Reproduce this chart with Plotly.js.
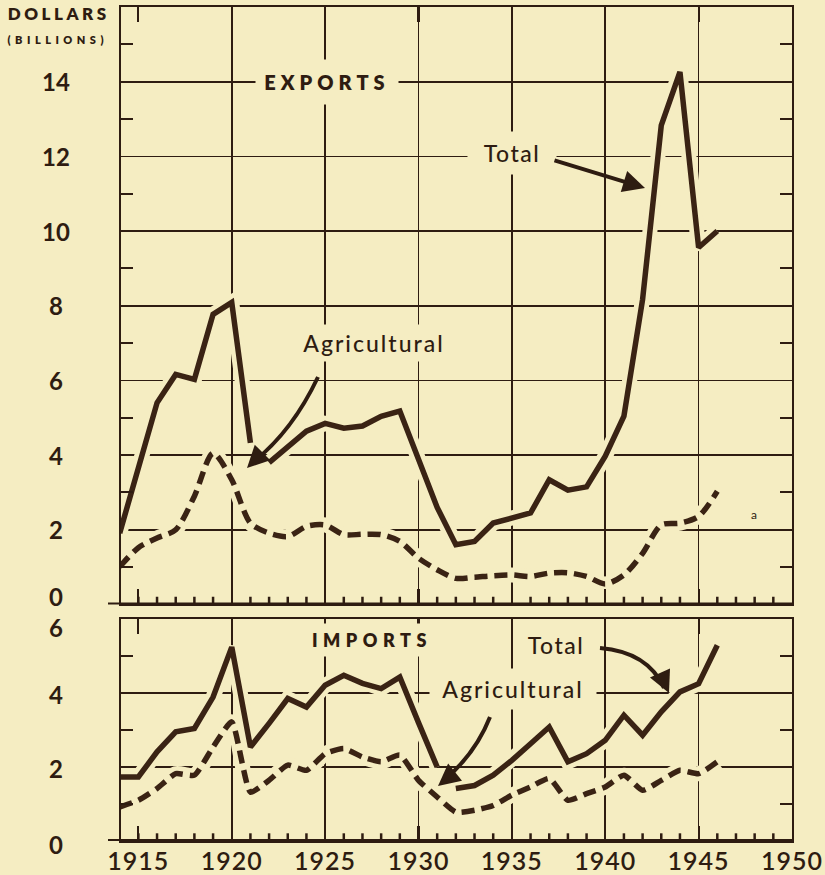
<!DOCTYPE html>
<html>
<head>
<meta charset="utf-8">
<script src="https://cdn.plot.ly/plotly-3.0.1.min.js"></script>
<style>
html,body{margin:0;padding:0;background:#f5edc2;}
#chart{width:825px;height:875px;}
</style>
</head>
<body>
<div id="chart"></div>
<script>
// ---------- DATA ----------
const years = [1914,1915,1916,1917,1918,1919,1920,1921,1922,1923,1924,1925,1926,1927,1928,1929,1930,
               1931,1932,1933,1934,1935,1936,1937,1938,1939,1940,1941,1942,1943,1944,1945,1946];
const exportTotal = [1.91,3.60,5.40,6.16,6.03,7.77,8.09,4.33,3.80,4.24,4.64,4.85,4.72,4.78,5.04,5.18,3.90,
                     2.60,1.60,1.69,2.18,2.32,2.45,3.34,3.06,3.15,3.97,5.04,8.17,12.83,14.26,9.56,10.00];
const exportAgri  = [1.01,1.52,1.78,2.00,2.90,4.05,3.34,2.18,1.91,1.82,2.09,2.13,1.87,1.88,1.87,1.69,1.24,
                     0.93,0.70,0.73,0.77,0.79,0.75,0.84,0.85,0.75,0.55,0.79,1.37,2.13,2.18,2.36,3.03];
const importTotal = [1.73,1.73,2.41,2.95,3.04,3.89,5.24,2.54,3.18,3.85,3.62,4.21,4.48,4.26,4.12,4.43,3.20,
                     2.00,1.42,1.50,1.78,2.18,2.63,3.08,2.14,2.36,2.72,3.40,2.86,3.49,4.03,4.25,5.29];
const importAgri  = [0.92,1.10,1.42,1.82,1.78,2.54,3.22,1.32,1.64,2.05,1.91,2.36,2.50,2.27,2.14,2.32,1.64,
                     1.19,0.78,0.83,0.96,1.24,1.46,1.69,1.10,1.28,1.46,1.78,1.37,1.64,1.91,1.82,2.14];

const xLabelYears = [1915,1920,1925,1930,1935,1940,1945,1950];
const xLabelText  = ['1915','1920','1925','1930','1935','1940','1945','1950'];
const gridYears   = [1920,1925,1930,1935,1940,1945];
const yearTicks   = [1915,1916,1917,1918,1919,1921,1922,1923,1924,1926,1927,1928,1929,1931,1932,
                     1933,1934,1936,1937,1938,1939,1941,1942,1943,1944,1946,1947,1948,1949];
const exportYTicks = [0,2,4,6,8,10,12,14];
const exportYText  = ['0','2','4','6','8','10','12','14'];
const exportYMinor = [1,3,5,7,9,11,13,15];
const importYTicks = [0,2,4,6];
const importYText  = ['0','2','4','6'];
const importYMinor = [1,3,5];

// ---------- STYLE ----------
const BG = '#f5edc2';
const INK = '#2e1c11';
const LINE = '#3a2314';
const FONT = 'Lato, "DejaVu Sans", sans-serif';
const XR = [1914.07, 1950.0];
const exportGap = 8;   // break in exports total line (arrow)
const importGap = 18;  // break in imports total line (arrow)

function seg(arr, a, b){ return arr.slice(a, b); }
function halo(x, y, xa, ya, shape){
  return {x:x, y:y, xaxis:xa, yaxis:ya, mode:'lines', hoverinfo:'skip',
          line:{color:BG, width:15, shape:shape||'linear', smoothing:0.8}};
}
function solid(x, y, xa, ya){
  return {x:x, y:y, xaxis:xa, yaxis:ya, mode:'lines', hoverinfo:'skip',
          line:{color:LINE, width:5.5, shape:'linear'}};
}
function dashed(x, y, xa, ya, smooth){
  return {x:x, y:y, xaxis:xa, yaxis:ya, mode:'lines', hoverinfo:'skip',
          line:{color:LINE, width:5.5, dash:'13px,7px', shape:'spline', smoothing:smooth}};
}
// small year tick marks sitting on each baseline (lower half clipped by the plot area)
function yearDots(xa, ya){
  return {x:yearTicks, y:yearTicks.map(function(){return 0;}), xaxis:xa, yaxis:ya, mode:'markers',
          hoverinfo:'skip', cliponaxis:true,
          marker:{symbol:'line-ns-open', size:11, color:INK, line:{color:INK, width:2.5}}};
}

const traces = [
  halo(seg(years,0,exportGap), seg(exportTotal,0,exportGap), 'x2','y2'),
  halo(seg(years,exportGap), seg(exportTotal,exportGap), 'x2','y2'),
  halo(years, exportAgri, 'x2','y2','spline'),
  halo(seg(years,0,importGap), seg(importTotal,0,importGap), 'x','y'),
  halo(seg(years,importGap), seg(importTotal,importGap), 'x','y'),
  halo(years, importAgri, 'x','y','spline'),
  yearDots('x2','y2'),
  yearDots('x','y'),
  dashed(years, exportAgri, 'x2','y2', 0.8),
  solid(seg(years,0,exportGap), seg(exportTotal,0,exportGap), 'x2','y2'),
  solid(seg(years,exportGap), seg(exportTotal,exportGap), 'x2','y2'),
  dashed(years, importAgri, 'x','y', 0.5),
  solid(seg(years,0,importGap), seg(importTotal,0,importGap), 'x','y'),
  solid(seg(years,importGap), seg(importTotal,importGap), 'x','y')
];

// x axes: labels, 15px ticks (visible at 1915, top and bottom), vertical grid via minor
function mainX(anchor, labels){
  return {anchor:anchor, domain:[0,1], range:XR, tickmode:'array',
    tickvals: xLabelYears, ticktext: xLabelText,
    showticklabels: !!labels, ticks:'inside', ticklen:15, tickwidth:2.2, tickcolor:INK,
    showgrid:false, zeroline:false,
    showline:true, linecolor:INK, linewidth:2, mirror:'ticks',
    tickfont:{family:FONT, size:25, color:INK, weight:600}, ticklabelstandoff:-3,
    minor:{tickmode:'array', tickvals:gridYears, showgrid:true, gridcolor:INK, gridwidth:1.7, ticks:''}};
}
function panelY(anchor, dom, range, grid, minor){
  return {anchor:anchor, domain:dom, range:range, tickmode:'array', tickvals:grid,
    showticklabels:false, ticks:'', showgrid:true, gridcolor:INK, gridwidth:1.7,
    showline:true, linecolor:INK, linewidth:2, mirror:'ticks', zeroline:false,
    minor:{tickmode:'array', tickvals:minor, ticks:'inside', ticklen:12, tickwidth:2, tickcolor:INK, showgrid:false}};
}

const PX0 = 121, PW = 671, PY1 = 841, PH = 834;
function px(x){ return (x - PX0) / PW; }
function py(y){ return (PY1 - y) / PH; }

const annotations = [];
exportYTicks.forEach(function(v, i){
  annotations.push({xref:'paper', yref:'y2', x:px(56), y:v, text:exportYText[i], showarrow:false,
    xanchor:'center', yanchor:'middle', yshift:(v===0?8:0),
    font:{family:FONT, size:24, color:INK, weight:700}});
});
importYTicks.forEach(function(v, i){
  annotations.push({xref:'paper', yref:'y', x:px(56), y:v, text:importYText[i], showarrow:false,
    xanchor:'center', yanchor:'middle', yshift:(v===6?-9:(v===0?-4:-2)),
    font:{family:FONT, size:24, color:INK, weight:700}});
});
function label(text, x, y, size, weight, w, h){
  const a = {xref:'paper', yref:'paper', x:px(x), y:py(y), text:text, showarrow:false,
    xanchor:'center', yanchor:'middle', font:{family:FONT, size:size, color:INK, weight:weight}};
  if (w) { a.bgcolor = BG; a.width = w; a.height = h; }
  return a;
}
annotations.push(label('DOLLARS', 58, 14, 17, 800));
annotations.push(label('(BILLIONS)', 58, 40, 11, 800));
annotations.push(label('EXPORTS', 327, 82, 20, 800, 140, 42));
annotations.push(label('Total', 512, 153, 23, 500, 86, 40));
annotations.push(label('Agricultural', 374, 343, 23, 500, 176, 34));
annotations.push(label('IMPORTS', 372, 640, 18, 800, 136, 30));
annotations.push(label('Total', 556, 645, 23, 500, 80, 30));
annotations.push(label('Agricultural', 513, 689, 23, 500, 164, 38));
annotations.push(label('a', 754, 514, 12, 400));

function head(tx, ty, ax, ay){
  return {xref:'paper', yref:'paper', x:px(tx), y:py(ty), ax:ax, ay:ay, text:'', showarrow:true,
    arrowhead:2, arrowsize:1.1, arrowwidth:4, arrowcolor:INK, standoff:0};
}
annotations.push(head(645, 188, -92, -28));
annotations.push(head(247, 468, 16, -16));
annotations.push(head(669, 693, -9, -20));
annotations.push(head(438, 786, 16, -13));

function curve(x0,y0,cx,cy,x1,y1){
  return {type:'path', xref:'paper', yref:'paper',
    path:'M '+px(x0)+' '+py(y0)+' Q '+px(cx)+' '+py(cy)+' '+px(x1)+' '+py(y1),
    line:{color:INK, width:4}};
}
const shapes = [
  curve(318,377, 292,432, 252,463),
  curve(600,648, 648,652, 664,688),
  curve(490,717, 475,755, 442,782),
  {type:'line', xref:'paper', yref:'y2', x0:px(108), x1:1, y0:0, y1:0, line:{color:INK, width:4}},
  {type:'line', xref:'paper', yref:'y', x0:px(108), x1:1, y0:0, y1:0, line:{color:INK, width:4}}
];

const layout = {
  width:825, height:875,
  paper_bgcolor:BG, plot_bgcolor:BG,
  margin:{l:121, r:33, t:7, b:34},
  showlegend:false,
  xaxis: mainX('y', true),
  xaxis2: mainX('y2', false),
  yaxis: panelY('x', [0, 0.2662], [0,6], [2,4], importYMinor),
  yaxis2: panelY('x2', [0.2836, 1], [0,16], [2,4,6,8,10,12,14], exportYMinor),
  annotations: annotations,
  shapes: shapes
};

const spacing = {'DOLLARS':'3.5px', '(BILLIONS)':'4.5px', 'EXPORTS':'5px', 'IMPORTS':'5.5px',
                 'Total':'1.5px', 'Agricultural':'2px'};
Plotly.newPlot('chart', traces, layout, {staticPlot:true, displayModeBar:false}).then(function(){
  document.querySelectorAll('.annotation-text').forEach(function(t){
    const s = spacing[t.textContent];
    if (s) t.style.letterSpacing = s;
  });
  document.querySelectorAll('.xtick text').forEach(function(t){ t.style.letterSpacing = '1px'; });
});
</script>
</body>
</html>
